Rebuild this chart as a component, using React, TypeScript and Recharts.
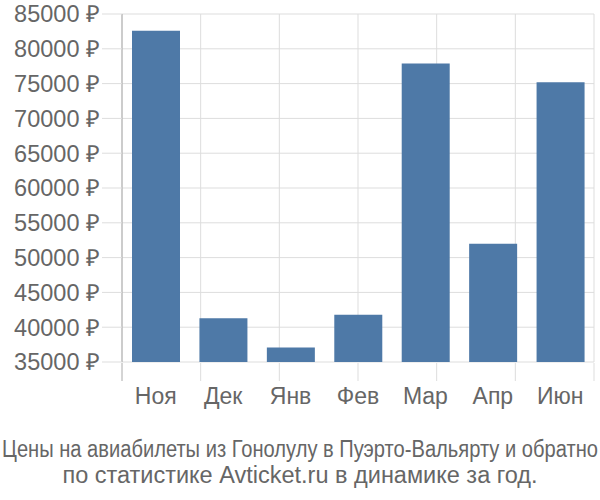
import { Bar, BarChart, CartesianGrid, XAxis, YAxis } from 'recharts';

const MONTHS = ['Ноя', 'Дек', 'Янв', 'Фев', 'Мар', 'Апр', 'Июн'];
const PRICES = [82600, 41300, 37100, 41800, 77900, 52000, 75200];
const Y_TICKS = [35000, 40000, 45000, 50000, 55000, 60000, 65000, 70000, 75000, 80000, 85000];
// band edges on a 0..N numeric axis, used for the vertical grid
const BAND_EDGES = MONTHS.map((_, i) => i).concat(MONTHS.length);

const TITLE_1 = 'Цены на авиабилеты из Гонолулу в Пуэрто-Вальярту и обратно';
const TITLE_2 = 'по статистике Avticket.ru в динамике за год.';

const rows = MONTHS.map((month, i) => ({ month, price: PRICES[i] }));

const TEXT = '#666666';
const FONT = '"Liberation Sans", Arial, sans-serif';

// Tick lines of the band-edge axis hang below the plot.
function EdgeTick(props: any) {
  const { x, y, index } = props;
  return (
    <line
      x1={x}
      x2={x}
      y1={y}
      y2={y + 18}
      stroke={index === 0 ? '#aaaaaa' : '#dddddd'}
      strokeWidth={1}
    />
  );
}

export default function App() {
  return (
    <div style={styles.page}>
      <BarChart
        width={600}
        height={500}
        data={rows}
        margin={{ top: 14, right: 6, bottom: 136, left: 0 }}
      >
        <CartesianGrid xAxisId="edges" stroke="#dddddd" vertical horizontal />
        <XAxis
          xAxisId="edges"
          type="number"
          domain={[0, MONTHS.length]}
          ticks={BAND_EDGES}
          height={1}
          axisLine={false}
          tickLine={false}
          tickSize={0}
          tickMargin={0}
          tick={<EdgeTick />}
          interval={0}
        />
        <XAxis
          xAxisId="cat"
          dataKey="month"
          height={1}
          axisLine={false}
          tickLine={false}
          tickSize={0}
          tickMargin={26}
          interval={0}
          tick={{ fontSize: 23, fill: TEXT, fontFamily: FONT }}
        />
        <YAxis
          domain={[35000, 85000]}
          ticks={Y_TICKS}
          interval={0}
          width={122}
          tickSize={20}
          tickMargin={2}
          tickFormatter={(v: number) => `${v} ₽`}
          tick={{ fontSize: 23.5, fill: TEXT, fontFamily: FONT }}
          tickLine={{ stroke: '#dddddd' }}
          axisLine={{ stroke: '#aaaaaa' }}
          allowDataOverflow
        />
        <Bar
          xAxisId="cat"
          dataKey="price"
          fill="#4e79a7"
          barSize={48}
          isAnimationActive={false}
        />
      </BarChart>
      <svg width={600} height={70} style={styles.title}>
        <text
          x={300}
          y={27}
          textAnchor="middle"
          textLength={596}
          lengthAdjust="spacingAndGlyphs"
          fontFamily={FONT}
          fontSize={23.5}
          fill={TEXT}
        >
          {TITLE_1}
        </text>
        <text x={300} y={53} textAnchor="middle" fontFamily={FONT} fontSize={23.5} fill={TEXT}>
          {TITLE_2}
        </text>
      </svg>
    </div>
  );
}

const styles: Record<string, React.CSSProperties> = {
  page: {
    position: 'absolute',
    left: 0,
    top: 0,
    width: 600,
    height: 500,
    background: '#ffffff',
  },
  title: {
    position: 'absolute',
    left: 0,
    top: 430,
  },
};
